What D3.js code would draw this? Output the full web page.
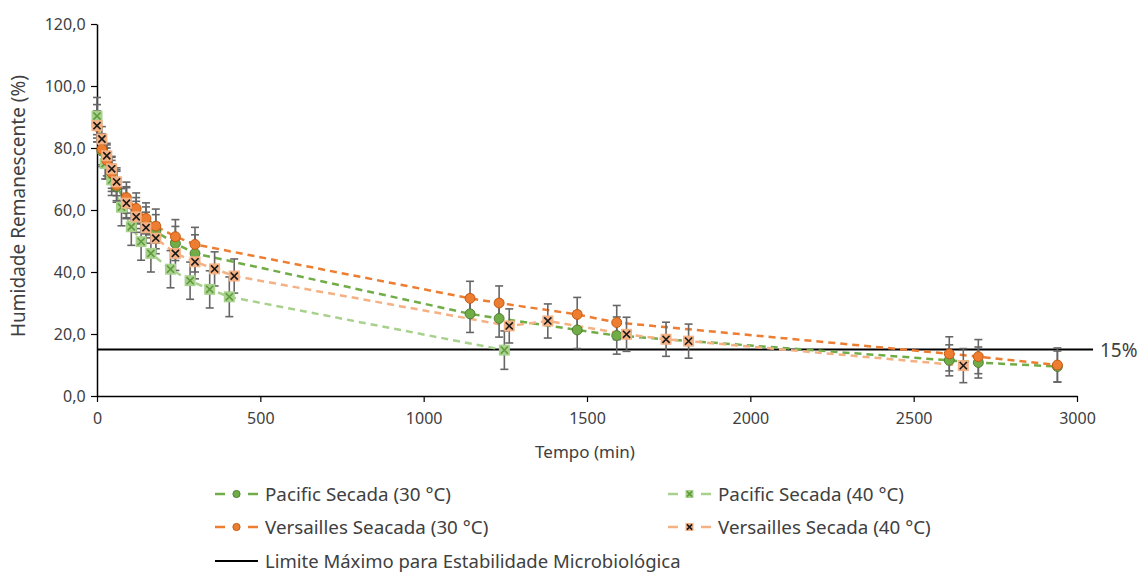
<!DOCTYPE html>
<html>
<head>
<meta charset="utf-8">
<script src="https://cdn.jsdelivr.net/npm/d3@7"></script>
<style>
  body { margin: 0; background: #fff; }
  text { font-family: "Noto Sans", "DejaVu Sans", sans-serif; fill: #404040; }
</style>
</head>
<body>
<div id="chart"></div>
<script>
// data (time in min, remaining humidity in %)
const pac30Time = [0, 15, 30, 45, 60, 90, 120, 150, 180, 240, 300, 1142, 1231, 1470, 1591, 2609, 2698, 2940];
const pac30Hum  = [88, 79, 75, 71, 67.5, 62.5, 59, 56, 53.0, 49.2, 46.0, 26.5, 25.0, 21.3, 19.5, 11.5, 10.8, 9.5];
const pac30Err  = [6, 5, 5, 5, 5, 5, 5, 5, 5.5, 5.5, 6, 6, 6, 6, 6, 5, 5, 5];

const pac40Time = [0, 25, 45, 75, 105, 135, 165, 225, 285, 345, 405, 1247];
const pac40Hum  = [90.3, 75, 69.7, 60.9, 54.6, 49.8, 46.0, 40.9, 37.2, 34.4, 32.0, 14.8];
const pac40Err  = [6, 5, 5, 6, 6, 6, 6, 6, 6, 6, 6.4, 6.2];

const ver30Time = [0, 15, 30, 45, 60, 90, 120, 150, 180, 240, 300, 1142, 1231, 1470, 1591, 2609, 2698, 2940];
const ver30Hum  = [87, 79.6, 76, 72, 68, 64.0, 60.5, 57.3, 54.8, 51.4, 48.9, 31.5, 30.0, 26.3, 23.7, 13.6, 12.7, 10.0];
const ver30Err  = [5, 5, 5, 5, 5, 5, 5, 5, 5.5, 5.5, 5.5, 5.5, 5.5, 5.5, 5.5, 5.5, 5.5, 5.5];

const ver40Time = [0, 15, 30, 45, 60, 90, 120, 150, 180, 240, 300, 360, 420, 1262, 1380, 1621, 1742, 1811, 2652];
const ver40Hum  = [87.2, 82.9, 77.5, 73.3, 69.1, 62.2, 57.8, 54.3, 50.9, 46.0, 43.3, 41.0, 38.7, 22.6, 24.2, 19.9, 18.3, 17.7, 9.8];
const ver40Err  = [4, 4, 4, 4, 4.5, 5, 5, 5, 5, 5.5, 5.5, 5.5, 5.5, 5.5, 5.5, 5.5, 5.5, 5.5, 5.5];

const limitValue = 15;
const yTicks = [0, 20, 40, 60, 80, 100, 120];
const xTicks = [0, 500, 1000, 1500, 2000, 2500, 3000];

// series table built from the arrays above
const series = [
  {name: "Pacific Secada (30 °C)", t: pac30Time, v: pac30Hum, e: pac30Err, line: "#70AD47", marker: "circle", fill: "#70AD47", edge: "#507E32"},
  {name: "Pacific Secada (40 °C)", t: pac40Time, v: pac40Hum, e: pac40Err, line: "#A9D18E", marker: "x", fill: "#A9D18E", edge: "#5E9B3A"},
  {name: "Versailles Seacada (30 °C)", t: ver30Time, v: ver30Hum, e: ver30Err, line: "#ED7D31", marker: "circle", fill: "#ED7D31", edge: "#C55A11"},
  {name: "Versailles Secada (40 °C)", t: ver40Time, v: ver40Hum, e: ver40Err, line: "#F4B183", marker: "x", fill: "#F4B183", edge: "#1a1a1a"}
];

// dimensions
const W = 1139, H = 572;
const margin = {top: 24, left: 97},
    width = 980,
    height = 372;

const svg = d3.select("#chart")
  .append("svg")
    .attr("width", W)
    .attr("height", H);

const g = svg.append("g")
    .attr("transform", `translate(${margin.left},${margin.top})`);

const x = d3.scaleLinear().domain([0, 3000]).range([0, width]);
const y = d3.scaleLinear().domain([0, 120]).range([height, 0]);

// axes
const xAxis = g.append("g")
    .attr("transform", `translate(0,${height})`)
    .call(d3.axisBottom(x).tickValues(xTicks).tickSizeInner(6).tickSizeOuter(0).tickFormat(d3.format("d")));
const yAxis = g.append("g")
    .call(d3.axisLeft(y).tickValues(yTicks).tickSizeInner(6).tickSizeOuter(0)
      .tickFormat(d => d.toFixed(1).replace(".", ",")));

[xAxis, yAxis].forEach(a => {
  a.select(".domain").attr("stroke", "#000").attr("stroke-width", 1.5);
  a.selectAll(".tick line").attr("stroke", "#000").attr("stroke-width", 1.2);
  a.selectAll(".tick text").attr("font-size", 16).attr("fill", "#404040")
    .attr("font-family", "'Noto Sans', sans-serif");
});
xAxis.selectAll(".tick text").attr("dy", "1.2em");
yAxis.selectAll(".tick text").attr("dx", "-0.15em");

// axis titles
svg.append("text")
  .attr("x", margin.left + width / 2 - 2)
  .attr("y", 458)
  .attr("text-anchor", "middle")
  .attr("font-size", 17)
  .text("Tempo (min)");

svg.append("text")
  .attr("transform", `translate(25,${margin.top + height / 2 - 4}) rotate(-90)`)
  .attr("text-anchor", "middle")
  .attr("font-size", 19)
  .text("Humidade Remanescente (%)");

// limit line 15 %
g.append("line")
  .attr("x1", 0).attr("x2", 996)
  .attr("y1", y(limitValue)).attr("y2", y(limitValue))
  .attr("stroke", "#000").attr("stroke-width", 2.2);
g.append("text")
  .attr("x", 1003).attr("y", y(limitValue) + 7)
  .attr("font-size", 19)
  .text("15%");

const lineGen = d3.line().x(d => x(d[0])).y(d => y(d[1]));

// dashed lines
series.forEach(s => {
  g.append("path")
    .datum(d3.zip(s.t, s.v))
    .attr("fill", "none")
    .attr("stroke", s.line)
    .attr("stroke-width", 2.5)
    .attr("stroke-dasharray", "7,5")
    .attr("d", lineGen);
});

// error bars
series.forEach(s => {
  const eg = g.append("g").attr("stroke", "#666").attr("stroke-width", 1.6);
  d3.zip(s.t, s.v, s.e).forEach(([t, v, e]) => {
    eg.append("line").attr("x1", x(t)).attr("x2", x(t)).attr("y1", y(v + e)).attr("y2", y(v - e));
    eg.append("line").attr("x1", x(t) - 4).attr("x2", x(t) + 4).attr("y1", y(v + e)).attr("y2", y(v + e));
    eg.append("line").attr("x1", x(t) - 4).attr("x2", x(t) + 4).attr("y1", y(v - e)).attr("y2", y(v - e));
  });
});

// markers
function drawMarker(sel, s, cx, cy, size) {
  if (s.marker === "circle") {
    sel.append("circle").attr("cx", cx).attr("cy", cy).attr("r", size * 0.45)
      .attr("fill", s.fill).attr("stroke", s.edge).attr("stroke-width", 1);
  } else {
    const h = size / 2;
    sel.append("rect").attr("x", cx - h).attr("y", cy - h).attr("width", size).attr("height", size)
      .attr("fill", s.fill);
    const k = h * 0.65;
    sel.append("path")
      .attr("d", `M${cx - k},${cy - k}L${cx + k},${cy + k}M${cx - k},${cy + k}L${cx + k},${cy - k}`)
      .attr("stroke", s.edge).attr("stroke-width", 1.6);
  }
}

series.forEach(s => {
  const mg = g.append("g");
  d3.zip(s.t, s.v).forEach(([t, v]) => drawMarker(mg, s, x(t), y(v), 11));
});

// legend
const legendPos = [[215, 494], [668, 494], [215, 527], [668, 527]];
series.forEach((s, i) => {
  const [lx, ly] = legendPos[i];
  const lg = svg.append("g");
  lg.append("line").attr("x1", lx).attr("x2", lx + 10).attr("y1", ly).attr("y2", ly)
    .attr("stroke", s.line).attr("stroke-width", 2.5);
  lg.append("line").attr("x1", lx + 33).attr("x2", lx + 43).attr("y1", ly).attr("y2", ly)
    .attr("stroke", s.line).attr("stroke-width", 2.5);
  drawMarker(lg, s, lx + 21.5, ly, 8);
  lg.append("text").attr("x", lx + 50).attr("y", ly + 7)
    .attr("font-size", 18.8).text(s.name);
});
svg.append("line").attr("x1", 215).attr("x2", 258).attr("y1", 561).attr("y2", 561)
  .attr("stroke", "#000").attr("stroke-width", 2.2);
svg.append("text").attr("x", 265).attr("y", 568).attr("font-size", 18.5)
  .text("Limite Máximo para Estabilidade Microbiológica");
</script>
</body>
</html>
